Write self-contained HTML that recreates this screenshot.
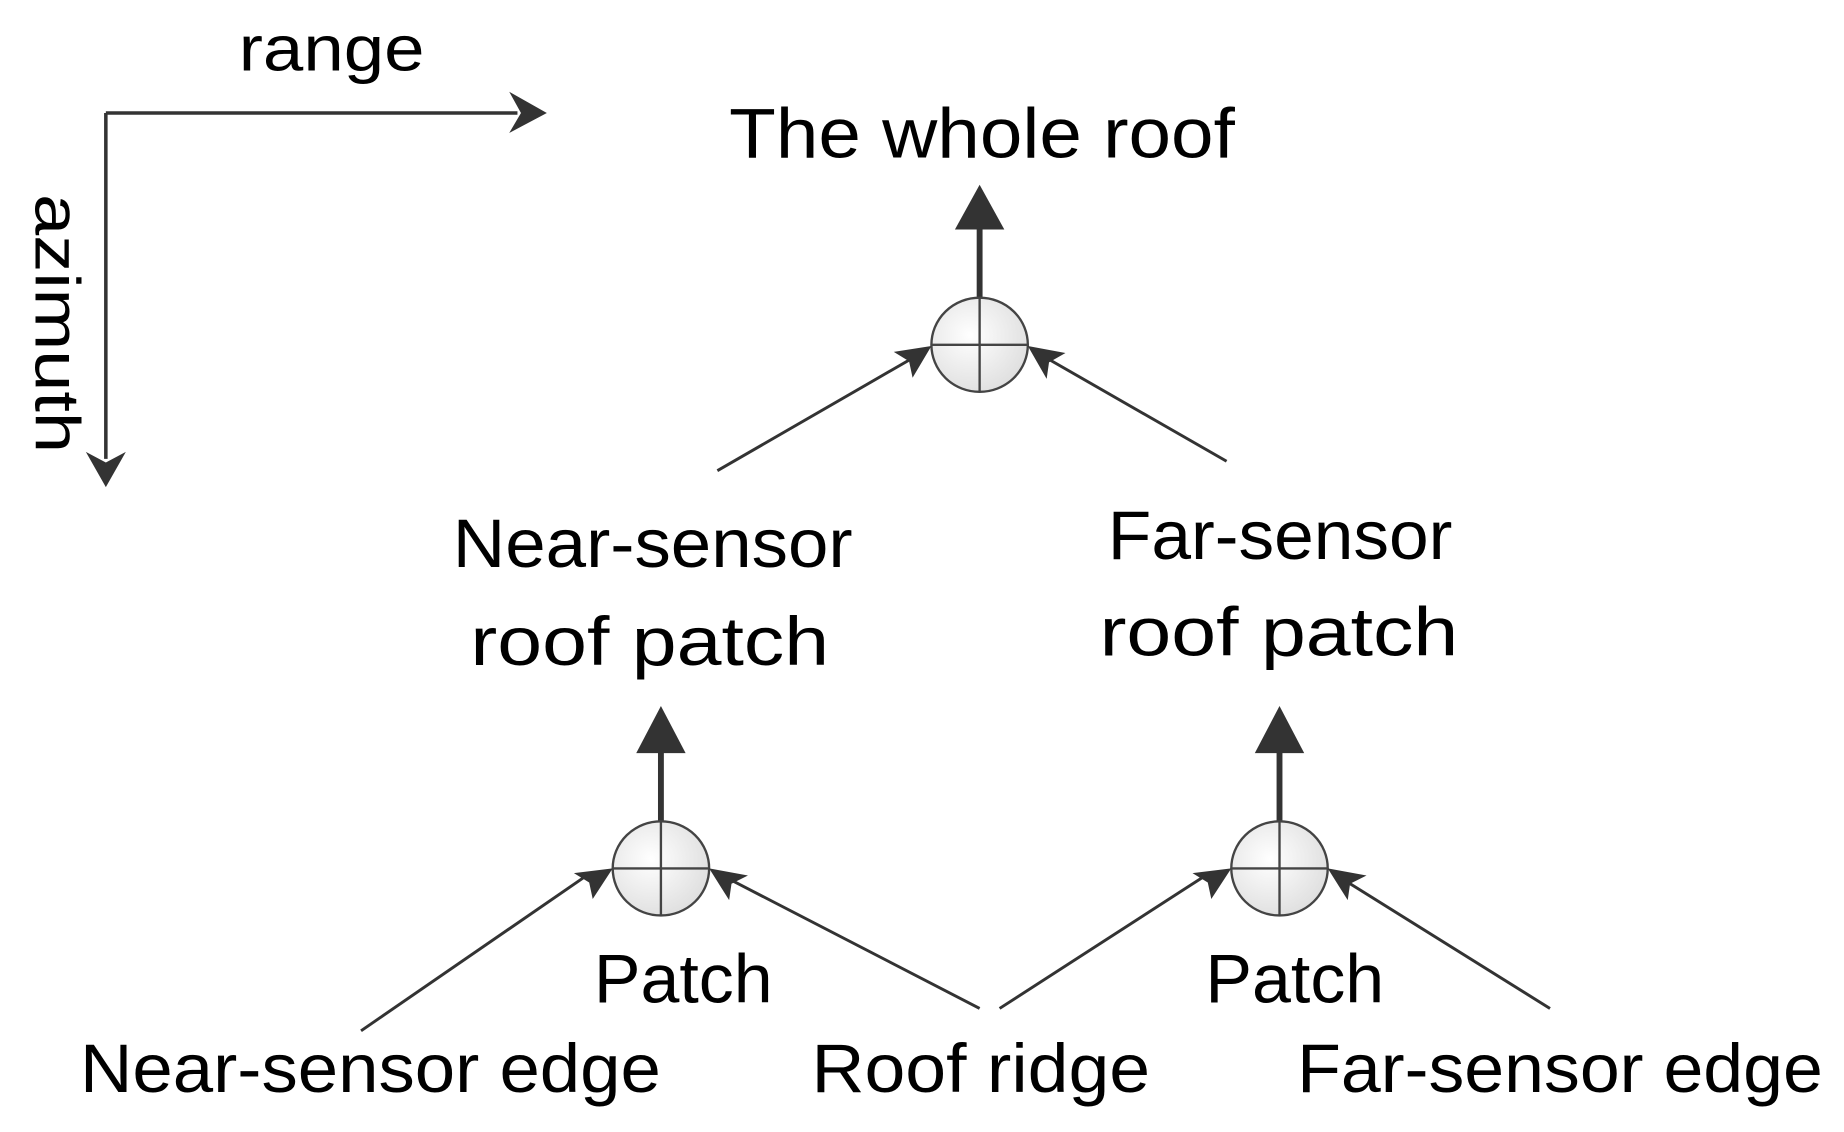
<!DOCTYPE html>
<html><head><meta charset="utf-8"><style>
html,body{margin:0;padding:0;background:#fff;}
svg{display:block;}
text{font-family:"Liberation Sans",sans-serif;fill:#000;}
</style></head><body>
<svg width="1844" height="1132" viewBox="0 0 1568 962" preserveAspectRatio="none" xmlns="http://www.w3.org/2000/svg">
<defs>
<radialGradient id="g" cx="0.4" cy="0.4" r="0.7"><stop offset="0" stop-color="#fff"/><stop offset="1" stop-color="#dcdcdc"/></radialGradient>
</defs>
<!-- axes -->
<path d="M90 96 H440 M90 96 V390" stroke="#333" stroke-width="3" fill="none"/>
<path d="M465 96 L433 78 L443 96 L433 113 Z" fill="#333"/>
<path d="M90 414 L73 384 L90 393 L107 384 Z" fill="#333"/>
<text x="203" y="60" font-size="54" textLength="158" lengthAdjust="spacingAndGlyphs">range</text>
<text transform="translate(30,165) rotate(90)" font-size="54" textLength="220" lengthAdjust="spacingAndGlyphs">azimuth</text>

<text x="620" y="134" font-size="60" textLength="430" lengthAdjust="spacingAndGlyphs">The whole roof</text>
<text x="385" y="482" font-size="58" textLength="340" lengthAdjust="spacingAndGlyphs">Near-sensor</text>
<text x="400" y="565" font-size="58" textLength="305" lengthAdjust="spacingAndGlyphs">roof  patch</text>
<text x="942" y="475" font-size="58" textLength="293" lengthAdjust="spacingAndGlyphs">Far-sensor</text>
<text x="935" y="557" font-size="58" textLength="305" lengthAdjust="spacingAndGlyphs">roof  patch</text>
<text x="505" y="852" font-size="58" textLength="152" lengthAdjust="spacingAndGlyphs">Patch</text>
<text x="1025" y="852" font-size="58" textLength="152" lengthAdjust="spacingAndGlyphs">Patch</text>
<text x="68" y="928" font-size="58" textLength="494" lengthAdjust="spacingAndGlyphs">Near-sensor edge</text>
<text x="690" y="928" font-size="58" textLength="288" lengthAdjust="spacingAndGlyphs">Roof ridge</text>
<text x="1103" y="928" font-size="58" textLength="447" lengthAdjust="spacingAndGlyphs">Far-sensor edge</text>

<!-- thick up arrows -->
<g stroke="#333" stroke-width="5">
<line x1="833" y1="253" x2="833" y2="190"/>
<line x1="562" y1="698" x2="562" y2="635"/>
<line x1="1088" y1="698" x2="1088" y2="635"/>
</g>
<g fill="#333">
<path d="M833 157 L812 195 L854 195 Z"/>
<path d="M562 600 L541 640 L583 640 Z"/>
<path d="M1088 600 L1067 640 L1109 640 Z"/>
</g>
<!-- circles -->
<g stroke="#444" stroke-width="2" fill="url(#g)">
<ellipse cx="833" cy="293" rx="41" ry="40"/>
<ellipse cx="562" cy="738" rx="41" ry="40"/>
<ellipse cx="1088" cy="738" rx="41" ry="40"/>
</g>
<g stroke="#444" stroke-width="2">
<path d="M792 293 H874 M833 253 V333"/>
<path d="M521 738 H603 M562 698 V778"/>
<path d="M1047 738 H1129 M1088 698 V778"/>
</g>
<!-- thin lines -->
<g stroke="#333" stroke-width="2.5">
<line x1="610" y1="400" x2="780" y2="302"/>
<line x1="1043" y1="392" x2="886" y2="302"/>
<line x1="307" y1="876" x2="496" y2="746"/>
<line x1="833" y1="857" x2="618" y2="746"/>
<line x1="850" y1="857" x2="1022" y2="746"/>
<line x1="1318" y1="857" x2="1140" y2="746"/>
</g>
<g fill="#333">
<path d="M792 294 L760 299 L773 307 L776 321 Z"/>
<path d="M874 294 L890 322 L892 308 L906 300 Z"/>
<path d="M521 738 L488 742 L501 750 L504 764 Z"/>
<path d="M603 738 L620 765 L622 751 L636 744 Z"/>
<path d="M1047 738 L1014 742 L1027 750 L1030 764 Z"/>
<path d="M1129 738 L1146 765 L1148 751 L1162 744 Z"/>
</g>
</svg>
</body></html>
